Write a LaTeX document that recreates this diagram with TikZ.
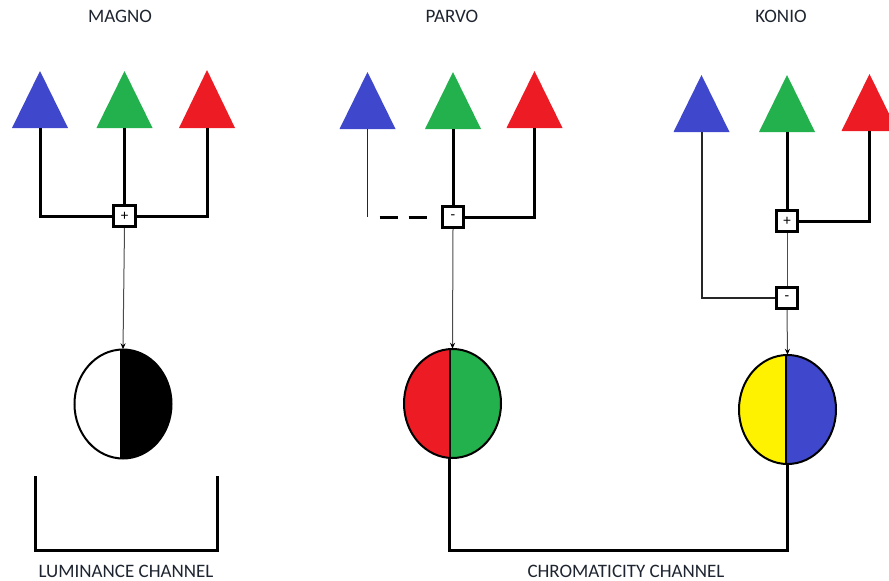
\documentclass[tikz,border=0pt]{standalone}
\usepackage{fontspec}
\setmainfont{Carlito}
\usetikzlibrary{shapes.geometric,arrows.meta,calc}
\definecolor{pblue}{HTML}{3F48CC}
\definecolor{pgreen}{HTML}{22B14C}
\definecolor{pred}{HTML}{ED1C24}
\definecolor{pyellow}{HTML}{FFF200}
\definecolor{ink}{HTML}{1E2530}
% cone: name, apex x, apex y, base y, colour
\newcommand\cone[5]{%
  \fill[#5] (#2,#3) -- (#2-28,#4) -- (#2+28,#4) -- cycle;
  \coordinate (#1) at (#2,#4);}
% half cell: name, cx, cy, left colour, right colour, divider offset
\newcommand\halfcell[6]{%
  \node[cell] (#1) at (#2,#3) {};
  \begin{scope}
    \clip (#1.center) ellipse [x radius=48.5, y radius=54.5];
    \fill[#4] ($(#1.center)+(-60,-60)$) rectangle ($(#1.center)+(#6,60)$);
    \fill[#5] ($(#1.center)+(#6,-60)$) rectangle ($(#1.center)+(60,60)$);
  \end{scope}
  \draw[line width=2pt] (#1.center) ellipse [x radius=48.5, y radius=54.5];
  \draw[line width=2pt] ($(#1.center)+(#6,-54.4)$) -- ($(#1.center)+(#6,54.4)$);}
\begin{document}
\begin{tikzpicture}[x=1pt,y=-1pt,
  wire/.style={line width=3pt},
  thinwire/.style={line width=1.5pt, black!85},
  feed/.style={line width=1pt, black!70, -{Stealth[length=6pt,width=5pt,black]}},
  op/.style={draw, line width=2.6pt, fill=white, minimum size=21.5pt, inner sep=0pt, font=\fontsize{15}{15}\selectfont},
  cell/.style={ellipse, minimum width=97pt, minimum height=109pt, inner sep=0pt},
  title/.style={font=\fontsize{19}{20}\selectfont, text=ink, inner sep=0pt},
  chan/.style={font=\fontsize{19}{20}\selectfont, text=ink, inner sep=0pt},
]
\useasboundingbox (0,0) rectangle (889,581);
\clip (0,0) rectangle (889,581);

% titles
\node[title] (tmag) at (120,16.5) {MAGNO};
\node[title] (tpar) at (452,16.5) {PARVO};
\node[title] (tkon) at (781,16.5) {KONIO};

% ---------- MAGNO ----------
\cone{mb}{40}{71}{128}{pblue}
\cone{mg}{124.5}{71}{128}{pgreen}
\cone{mr}{207}{70}{128}{pred}
\draw[wire] (mb) |- (124.5,216);
\draw[wire] (mr) |- (124.5,216);
\node[op] (mp) at (124.5,216) {+};
\draw[wire] (mg) -- (mp.north);
\halfcell{me}{123}{404}{white}{black}{-2}
\draw[feed] (mp.south) -- (me.north);

% ---------- PARVO ----------
\cone{pb}{367.5}{72}{129}{pblue}
\cone{pg}{453}{72}{129}{pgreen}
\cone{pr}{534.5}{71}{128}{pred}
\node[op] (pp) at (453,217) {-};
\draw[thinwire] (pb) -- (pb |- pp);
\draw[wire, dash pattern=on 18pt off 11pt] ($(pb |- pp)+(12,0)$) -- ($(pp.west)+(-14,0)$);
\draw[wire] (pr) |- (pp.east);
\draw[wire] (pg) -- (pp.north);
\halfcell{pe}{452.5}{403.5}{pred}{pgreen}{-2.5}
\draw[feed] (pp.south) -- (pe.north);

% ---------- KONIO ----------
\cone{kb}{701.5}{75}{132}{pblue}
\cone{kg}{787}{75}{132}{pgreen}
\cone{kr}{869.5}{74}{131}{pred}
\node[op] (kp) at (787,221) {+};
\node[op] (km) at (787,298) {-};
\draw[wire] (kg) -- (kp.north);
\draw[wire] (kr) |- (kp.east);
\draw[line width=1pt, black!70] (kp.south) -- (km.north);
\draw[line width=2pt, black!85] (kb) |- (km.west);
\halfcell{ke}{787.5}{409.5}{pyellow}{pblue}{-1.5}
\draw[feed] (km.south) -- (ke.north);

% ---------- channels ----------
\coordinate (lumA) at (35,476);
\coordinate (lumB) at (217,550);
\draw[wire] (lumA) |- (lumB) -- (lumB |- lumA);
\coordinate (chrB) at (620,550);
\draw[wire] ($(pe.south)+(-3.5,0)$) |- (chrB) -| (ke.south);

\node[chan] (tlum) at (126,571.5) {LUMINANCE CHANNEL};
\node[chan] (tchr) at (626,571.5) {CHROMATICITY CHANNEL};
\end{tikzpicture}
\end{document}
